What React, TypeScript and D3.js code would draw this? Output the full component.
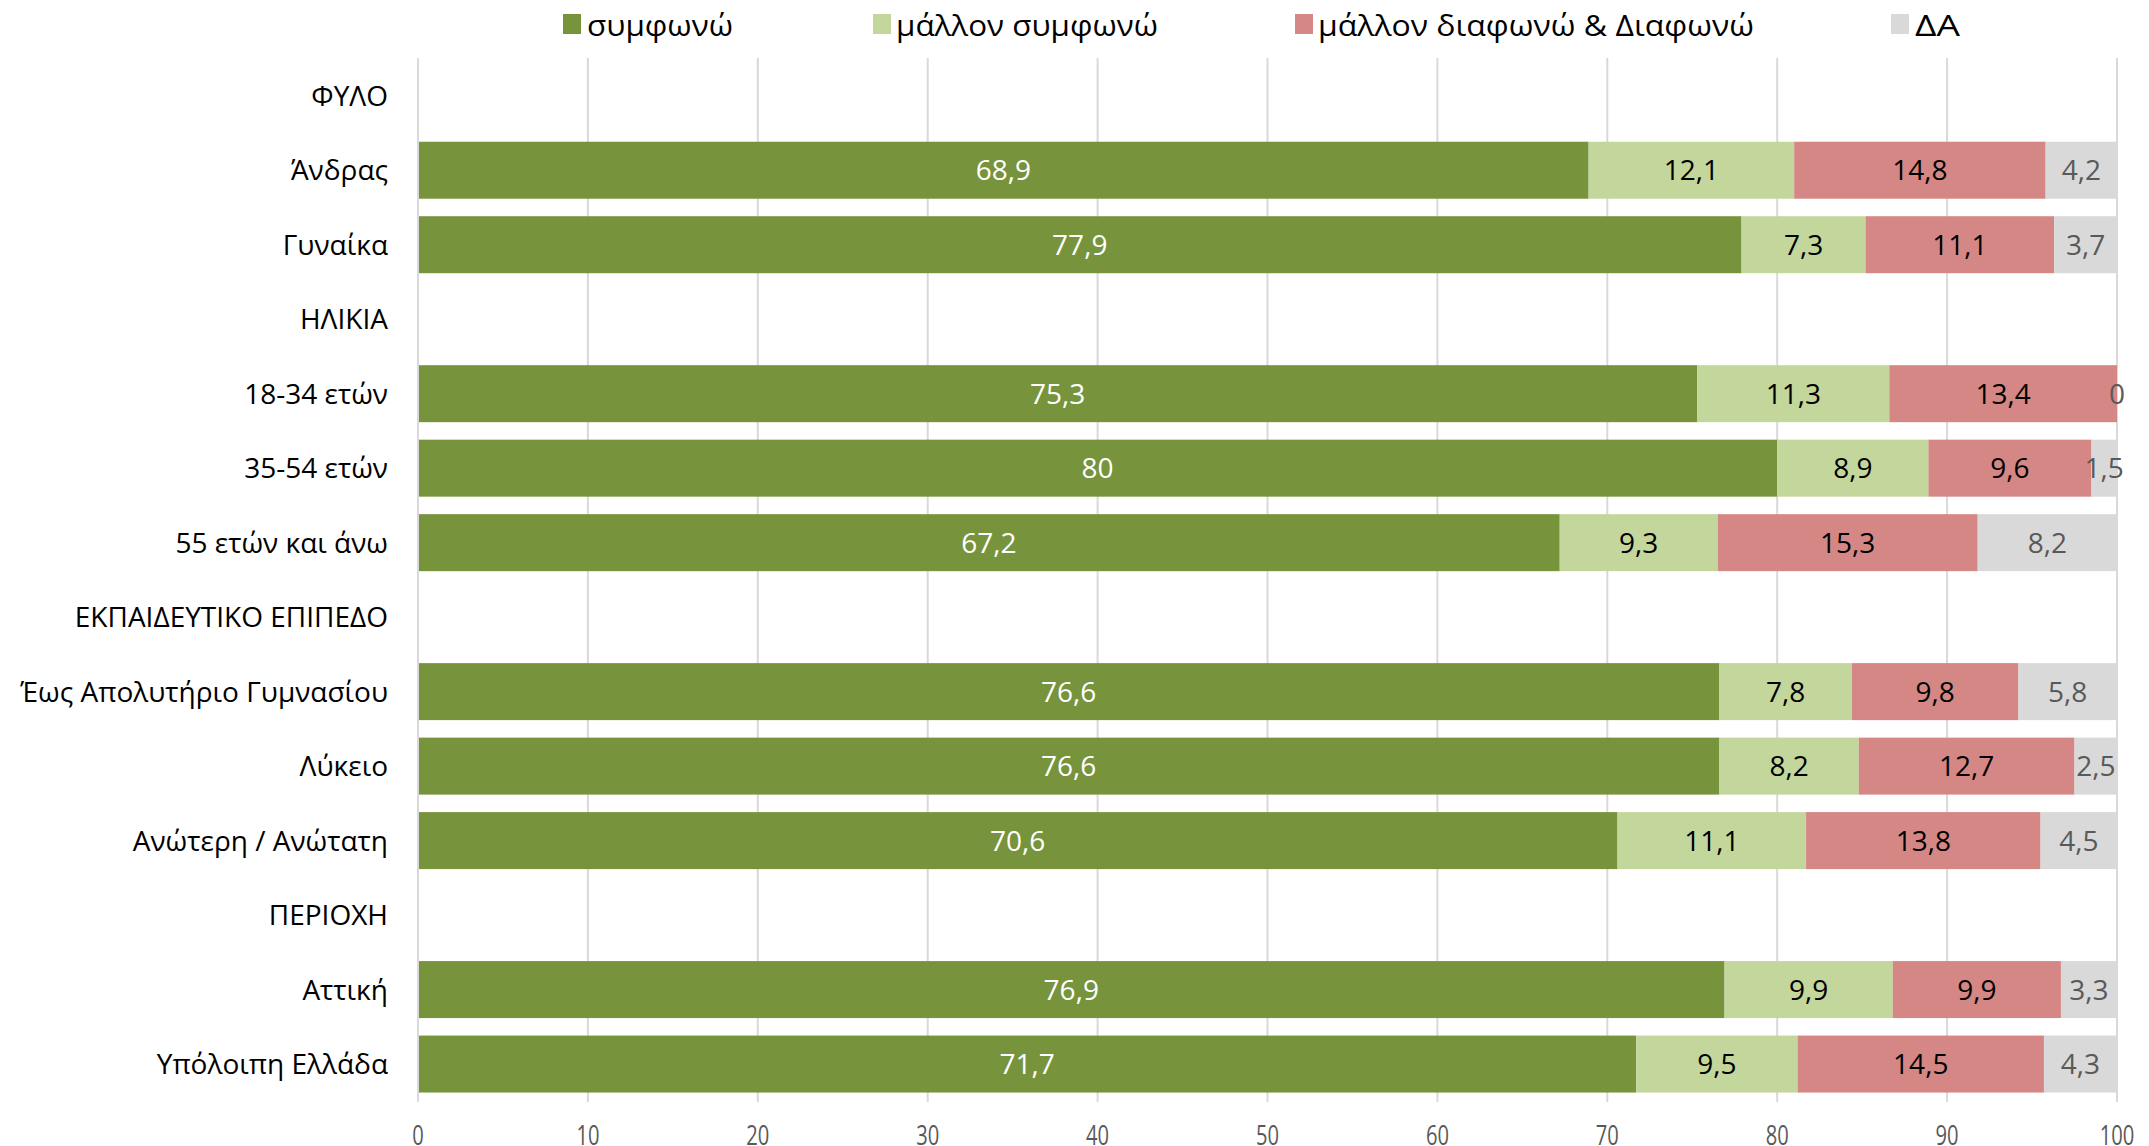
import React, { useEffect } from "react";
import * as d3 from "d3";

const categories = [
  "ΦΥΛΟ",
  "Άνδρας",
  "Γυναίκα",
  "ΗΛΙΚΙΑ",
  "18-34 ετών",
  "35-54 ετών",
  "55 ετών και άνω",
  "ΕΚΠΑΙΔΕΥΤΙΚΟ ΕΠΙΠΕΔΟ",
  "Έως Απολυτήριο Γυμνασίου",
  "Λύκειο",
  "Ανώτερη / Ανώτατη",
  "ΠΕΡΙΟΧΗ",
  "Αττική",
  "Υπόλοιπη Ελλάδα",
];

const seriesNames = ["συμφωνώ", "μάλλον συμφωνώ", "μάλλον διαφωνώ & Διαφωνώ", "ΔΑ"];

const agree: (number | null)[] = [null, 68.9, 77.9, null, 75.3, 80, 67.2, null, 76.6, 76.6, 70.6, null, 76.9, 71.7];
const ratherAgree: (number | null)[] = [null, 12.1, 7.3, null, 11.3, 8.9, 9.3, null, 7.8, 8.2, 11.1, null, 9.9, 9.5];
const disagree: (number | null)[] = [null, 14.8, 11.1, null, 13.4, 9.6, 15.3, null, 9.8, 12.7, 13.8, null, 9.9, 14.5];
const dontKnow: (number | null)[] = [null, 4.2, 3.7, null, 0, 1.5, 8.2, null, 5.8, 2.5, 4.5, null, 3.3, 4.3];

const xTicks = [0, 10, 20, 30, 40, 50, 60, 70, 80, 90, 100];

const colors = ["#77933C", "#C3D69B", "#D48784", "#D9D9D9"];
const labelColors = ["#FFFFFF", "#000000", "#000000", "#595959"];

const W = 2149;
const H = 1146;
const FONT = "'Open Sans', 'Noto Sans', sans-serif";

const legendLayout = [
  { sq: 563, tx: 587, tw: 146 },
  { sq: 873, tx: 896, tw: 262 },
  { sq: 1295, tx: 1318, tw: 436 },
  { sq: 1891, tx: 1915, tw: 45 },
];

export default function App() {
  useEffect(() => {
    document.body.style.margin = "0";
  }, []);

  const x = d3.scaleLinear().domain([0, 100]).range([418, 2117]);
  const y = d3
    .scaleBand<string>()
    .domain(categories)
    .range([58.5, 1101.3])
    .paddingInner(0.235)
    .paddingOuter(0.1175);

  const series = [agree, ratherAgree, disagree, dontKnow];
  const fmt = (v: number) => String(v).replace(".", ",");

  return (
    <svg width={W} height={H} style={{ position: "absolute", left: 0, top: 0, background: "#fff" }}>
      {/* gridlines */}
      {xTicks.map((t) => (
        <line
          key={"g" + t}
          x1={x(t)}
          x2={x(t)}
          y1={58}
          y2={1102}
          stroke="#D9D9D9"
          strokeWidth={2}
        />
      ))}
      {/* bars */}
      {categories.map((c, i) => {
        let acc = 0;
        const y0 = y(c)!;
        const bh = y.bandwidth();
        return (
          <g key={c}>
            {series.map((s, k) => {
              const v = s[i];
              if (v === null) return null;
              const start = acc;
              acc += v;
              return (
                <rect
                  key={k}
                  x={x(start)}
                  y={y0}
                  width={Math.max(0, x(start + v) - x(start))}
                  height={bh}
                  fill={colors[k]}
                />
              );
            })}
          </g>
        );
      })}
      {/* value labels */}
      {categories.map((c, i) => {
        let acc = 0;
        const cy = y(c)! + y.bandwidth() / 2;
        return (
          <g key={"l" + c}>
            {series.map((s, k) => {
              const v = s[i];
              if (v === null) return null;
              const start = acc;
              acc += v;
              return (
                <text
                  key={k}
                  x={x(start + v / 2)}
                  y={cy}
                  dy="0.36em"
                  textAnchor="middle"
                  fontFamily={FONT}
                  fontSize={28}
                  fill={labelColors[k]}
                >
                  {fmt(v)}
                </text>
              );
            })}
          </g>
        );
      })}
      {/* y axis line */}
      <line x1={x(0)} x2={x(0)} y1={58} y2={1102} stroke="#D9D9D9" strokeWidth={2} />
      {/* category labels */}
      {categories.map((c) => (
        <text
          key={"c" + c}
          x={388}
          y={y(c)! + y.bandwidth() / 2}
          dy="0.36em"
          textAnchor="end"
          fontFamily={FONT}
          fontSize={28}
          fill="#000"
        >
          {c}
        </text>
      ))}
      {/* x tick labels */}
      {xTicks.map((t) => (
        <text
          key={"t" + t}
          transform={`translate(${x(t)},1135) scale(0.72,1)`}
          dy="0.36em"
          textAnchor="middle"
          fontFamily={FONT}
          fontSize={28}
          fill="#595959"
        >
          {t}
        </text>
      ))}
      {/* legend */}
      {seriesNames.map((n, k) => (
        <g key={"lg" + k}>
          <rect x={legendLayout[k].sq} y={14} width={18} height={20} fill={colors[k]} />
          <text
            x={legendLayout[k].tx}
            y={25}
            dy="0.36em"
            fontFamily={FONT}
            fontSize={30}
            fill="#000"
            textLength={legendLayout[k].tw}
            lengthAdjust="spacingAndGlyphs"
          >
            {n}
          </text>
        </g>
      ))}
    </svg>
  );
}
